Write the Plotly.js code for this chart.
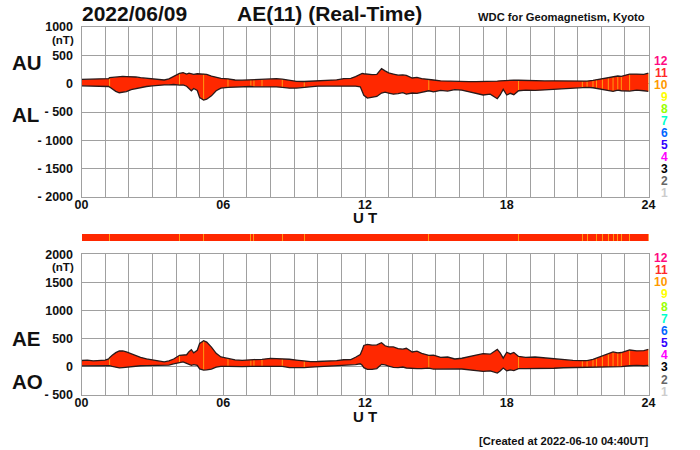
<!DOCTYPE html>
<html><head><meta charset="utf-8">
<script src="https://cdn.plot.ly/plotly-3.0.1.min.js"></script>
<style>html,body{margin:0;padding:0;background:#fff}#g{width:700px;height:450px}</style>
</head><body><div id="g"></div>
<script>
const hours=[0,0.25,0.5,0.75,1,1.15,1.19,1.3,1.45,1.6,1.75,1.9,2.1,2.3,2.5,2.75,3,3.25,3.5,3.7,3.9,4.15,4.3,4.45,4.55,4.65,4.75,4.9,5,5.17,5.3,5.5,5.7,5.9,6.2,6.5,6.8,7.17,7.3,7.64,8,8.25,8.5,8.8,9.1,9.43,9.7,10,10.4,10.8,11.1,11.4,11.6,11.8,11.88,11.95,12.1,12.3,12.5,12.7,12.85,13,13.2,13.4,13.6,13.75,14,14.2,14.4,14.7,14.9,15.2,15.5,15.8,16.1,16.4,16.7,17,17.3,17.6,17.72,17.85,18,18.15,18.3,18.5,18.8,19.2,19.6,20,20.4,20.8,21.2,21.4,21.65,21.8,22.05,22.3,22.5,22.7,22.85,23.2,23.5,23.8,24];
const au=[75,78,72,75,78,90,105,112,118,122,128,125,125,118,105,92,85,75,65,85,125,180,195,170,185,180,165,175,170,175,165,135,115,95,85,65,62,68,75,82,92,88,80,55,42,38,42,50,58,68,88,95,125,165,180,175,165,158,165,265,225,190,170,150,155,145,100,110,90,80,65,50,45,35,38,35,35,35,40,45,50,55,60,60,62,60,55,55,48,50,48,45,42,45,60,70,90,115,130,135,130,170,170,165,185];
const al=[-38,-40,-36,-38,-42,-50,-60,-95,-135,-160,-155,-140,-105,-85,-65,-50,-38,-25,-22,-20,-15,-25,-20,-45,-85,-125,-85,-120,-245,-290,-275,-215,-125,-80,-65,-58,-55,-50,-55,-52,-60,-58,-65,-80,-78,-65,-52,-45,-42,-42,-38,-35,-45,-55,-120,-205,-255,-245,-225,-165,-150,-165,-185,-175,-160,-185,-165,-170,-150,-125,-145,-120,-130,-105,-115,-140,-175,-200,-185,-265,-200,-100,-200,-170,-195,-125,-115,-120,-110,-100,-80,-70,-68,-65,-72,-85,-100,-115,-135,-115,-125,-130,-115,-125,-135];
const ae=[113,118,108,113,120,140,165,207,253,282,283,265,230,203,170,142,123,100,87,105,140,205,215,215,270,305,250,295,415,465,440,350,240,175,150,123,117,118,130,134,152,146,145,135,120,103,94,95,100,110,126,130,170,220,300,380,400,385,390,430,375,355,355,325,315,330,265,280,240,205,210,170,175,140,153,175,210,235,225,310,250,155,260,230,257,185,170,175,158,150,128,115,110,110,132,155,190,230,265,250,255,300,285,290,310];
const ao=[18,19,18,18,18,20,22,8,-8,-19,-13,-7,10,16,20,21,23,25,21,32,55,78,87,62,50,27,40,27,-37,-57,-55,-40,-5,8,10,3,3,9,10,15,16,15,8,-12,-18,-13,-5,3,8,13,25,30,40,55,30,-15,-45,-43,-30,45,37,12,-8,-12,-3,-20,-32,-30,-30,-22,-40,-35,-42,-35,-38,-52,-70,-82,-72,-110,-75,-22,-70,-55,-66,-32,-30,-32,-31,-25,-16,-12,-13,-10,-6,-7,-5,0,-2,10,3,20,27,20,25];
const stationTen=[1.19,4.15,5.17,6.2,7.17,7.3,7.64,8.5,9.43,14.7,18.5,21.2,21.4,21.65,21.8,22.05,22.3,22.5,22.7,22.85,23.2,24];
const hourTicks=[0,1,2,3,4,5,6,7,8,9,10,11,12,13,14,15,16,17,18,19,20,21,22,23,24];
const hourLabels=['00','','','','','','06','','','','','','12','','','','','','18','','','','','','24'];
const topVals=[1000,500,0,-500,-1000,-1500,-2000];
const topLabels=['1000','500','0','- 500','- 1000','- 1500','- 2000'];
const botVals=[2000,1500,1000,500,0,-500];
const botLabels=['2000','1500','1000','500','0','- 500'];
const stationNums=['12','11','10','9','8','7','6','5','4','3','2','1'];
const stationCols=['#ff0a82','#ff2a2a','#ff9900','#ffff00','#99ff00','#00ffcc','#0066ff','#3300ff','#ff00ff','#000000','#666666','#cccccc'];

const RED='#ff2800',ORANGE='#ff9a10',DARK='#2a1a1a',GRID='#a0a0a0',FONT='"Liberation Sans", Arial, sans-serif';
function segs(lo,hi){const x=[],y=[];stationTen.forEach(t=>{const i=hours.indexOf(t);x.push(t,t,null);y.push(lo[i],hi[i],null);});return {x,y};}
function panel(lo,hi,xa,ya){const s=segs(lo,hi);return [
 {type:'scatter',mode:'lines',x:hours,y:lo,xaxis:xa,yaxis:ya,line:{width:0,color:RED},hoverinfo:'skip'},
 {type:'scatter',mode:'lines',x:hours,y:hi,xaxis:xa,yaxis:ya,fill:'tonexty',fillcolor:RED,line:{width:0,color:RED},hoverinfo:'skip'},
 {type:'scatter',mode:'lines',x:s.x,y:s.y,xaxis:xa,yaxis:ya,line:{width:1,color:ORANGE},connectgaps:false,hoverinfo:'skip'},
 {type:'scatter',mode:'lines',x:hours,y:lo,xaxis:xa,yaxis:ya,line:{width:1.3,color:DARK},hoverinfo:'skip'},
 {type:'scatter',mode:'lines',x:hours,y:hi,xaxis:xa,yaxis:ya,line:{width:1.3,color:DARK},hoverinfo:'skip'}
];}
const data=[...panel(al,au,'x','y'),...panel(ao,ae,'x3','y3'),
 {type:'bar',x:[12],y:[1],width:[24],xaxis:'x2',yaxis:'y2',marker:{color:RED,line:{width:0}},hoverinfo:'skip'},
 {type:'bar',x:stationTen,y:stationTen.map(()=>1),width:stationTen.map(()=>0.04),xaxis:'x2',yaxis:'y2',marker:{color:ORANGE,line:{width:0}},hoverinfo:'skip'}
];
const W=700,H=450,XD=[81.5/W,648.5/W];
const dom=(t,b)=>[1-b/H,1-t/H];
const tickF={family:FONT,size:12.5,color:'#111',weight:'bold'};
function xax(anchor){return {domain:XD,range:[0,24],anchor,tickmode:'array',tickvals:hourTicks,ticktext:hourLabels,showgrid:true,gridcolor:GRID,gridwidth:1,zeroline:false,showline:true,linecolor:GRID,linewidth:1,mirror:true,ticks:'',tickfont:tickF,tickangle:0,ticklabelstandoff:-4};}
function yax(anchor,domn,range,vals,labels){return {domain:domn,range,anchor,tickmode:'array',tickvals:vals,ticktext:labels,showgrid:true,gridcolor:GRID,gridwidth:1,zeroline:false,showline:true,linecolor:GRID,linewidth:1,mirror:true,ticks:'',tickfont:tickF,ticklabelstandoff:5};}
const ann=[];
function txt(x,y,text,size,opt){ann.push(Object.assign({xref:'paper',yref:'paper',x:x/W,y:1-y/H,text,showarrow:false,xanchor:'left',yanchor:'middle',font:{family:FONT,size,color:'#111',weight:'bold'}},opt||{}));}
txt(80,14,'2022/06/09',21);
txt(235,14,'AE(11) (Real-Time)',21);
txt(647,17,'WDC for Geomagnetism, Kyoto',11.2,{xanchor:'right'});
txt(650,441,'[Created at 2022-06-10 04:40UT]',11.2,{xanchor:'right'});
txt(76,40,'(nT)',11.5,{xanchor:'right'});
txt(76,267,'(nT)',11.5,{xanchor:'right'});
txt(365,217,'U T',15,{xanchor:'center'});
txt(365,416,'U T',15,{xanchor:'center'});
txt(10,62,'AU',20.5);txt(10,114,'AL',20.5);txt(10,338,'AE',20.5);txt(10,381,'AO',20.5);
stationNums.forEach((n,i)=>{
 const c={family:FONT,size:12,color:stationCols[i],weight:'bold'};
 txt(670,61+i*12,n,12,{xanchor:'right',font:c});
 txt(670,258+i*12.15,n,12,{xanchor:'right',font:c});
});
const layout={width:W,height:H,margin:{l:0,r:0,t:0,b:0},paper_bgcolor:'#fff',plot_bgcolor:'#fff',showlegend:false,hovermode:false,barmode:'overlay',bargap:0,
 xaxis:xax('y'),
 yaxis:yax('x',dom(27,197),[-2000,1000],topVals,topLabels),
 xaxis2:{domain:XD,range:[0,24],anchor:'y2',showgrid:false,zeroline:false,showticklabels:false,ticks:''},
 yaxis2:{domain:dom(234,241),range:[0,1],anchor:'x2',showgrid:false,zeroline:false,showticklabels:false,ticks:''},
 xaxis3:xax('y3'),
 yaxis3:yax('x3',dom(254.3,395),[-500,2000],botVals,botLabels),
 annotations:ann};
Plotly.newPlot('g',data,layout,{staticPlot:true,displayModeBar:false});
</script></body></html>
